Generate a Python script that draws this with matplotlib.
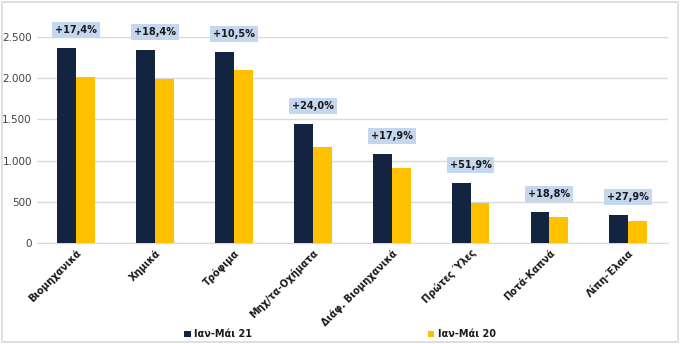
import matplotlib.pyplot as plt
import numpy as np
from matplotlib.patches import Rectangle
from matplotlib.ticker import FuncFormatter

categories = ['Βιομηχανικά', 'Χημικά', 'Τρόφιμα', 'Μηχ/τα-Οχήματα', 'Διάφ. Βιομηχανικά',
              'Πρώτες Ύλες', 'Ποτά-Καπνά', 'Λίπη-Έλαια']
val_21 = [2363, 2346, 2314, 1440, 1076, 728, 376, 336]
val_20 = [2015, 1987, 2096, 1165, 914, 481, 316, 263]
changes = ['+17,4%', '+18,4%', '+10,5%', '+24,0%', '+17,9%', '+51,9%', '+18,8%', '+27,9%']
series_labels = ['Ιαν-Μάι 21', 'Ιαν-Μάι 20']

navy = '#12243f'
yellow = '#ffc000'

fig = plt.figure(figsize=(6.8, 3.44), dpi=100)
ax = fig.add_axes([0.054, 0.294, 0.928, 0.598])

x = np.arange(len(categories))
w = 0.24
ax.bar(x - w / 2, val_21, w, color=navy, label=series_labels[0], zorder=3)
ax.bar(x + w / 2, val_20, w, color=yellow, label=series_labels[1], zorder=3)

for xi, v, txt in zip(x, val_21, changes):
    ax.annotate(txt, (xi, v), xytext=(0, 13), textcoords='offset points',
                ha='center', va='center', fontsize=7, fontweight='bold', color='#1a1a1a',
                bbox=dict(boxstyle='square,pad=0.3', fc='#c5d7ee', ec='none'),
                annotation_clip=False)

ax.set_xlim(-0.5, len(categories) - 0.5)
ax.set_ylim(0, 2500)
ax.set_yticks([0, 500, 1000, 1500, 2000, 2500])
ax.yaxis.set_major_formatter(FuncFormatter(lambda v, p: f'{int(v):,}'.replace(',', '.')))
ax.grid(axis='y', color='#d9d9d9', linewidth=1, zorder=0)
for s in ['top', 'right', 'left']:
    ax.spines[s].set_visible(False)
ax.spines['bottom'].set_color('#d9d9d9')
ax.tick_params(axis='both', length=0)
ax.tick_params(axis='y', labelsize=7.5, labelcolor='#404040')
ax.set_xticks(x)
ax.set_xticklabels(categories, rotation=45, ha='right', rotation_mode='anchor',
                   fontsize=7, fontweight='bold', color='#1a1a1a')

leg = fig.legend(loc='lower center', bbox_to_anchor=(0.5, -0.012), ncol=2, frameon=False,
                 fontsize=7, handlelength=0.7, handleheight=0.7, handletextpad=0.4,
                 columnspacing=18)
for t in leg.get_texts():
    t.set_fontweight('bold')
    t.set_color('#1a1a1a')

fig.patches.append(Rectangle((0.003, 0.005), 0.994, 0.99, transform=fig.transFigure,
                             fill=False, ec='#d9d9d9', lw=1.2))

fig.savefig('out.png', dpi=100)
